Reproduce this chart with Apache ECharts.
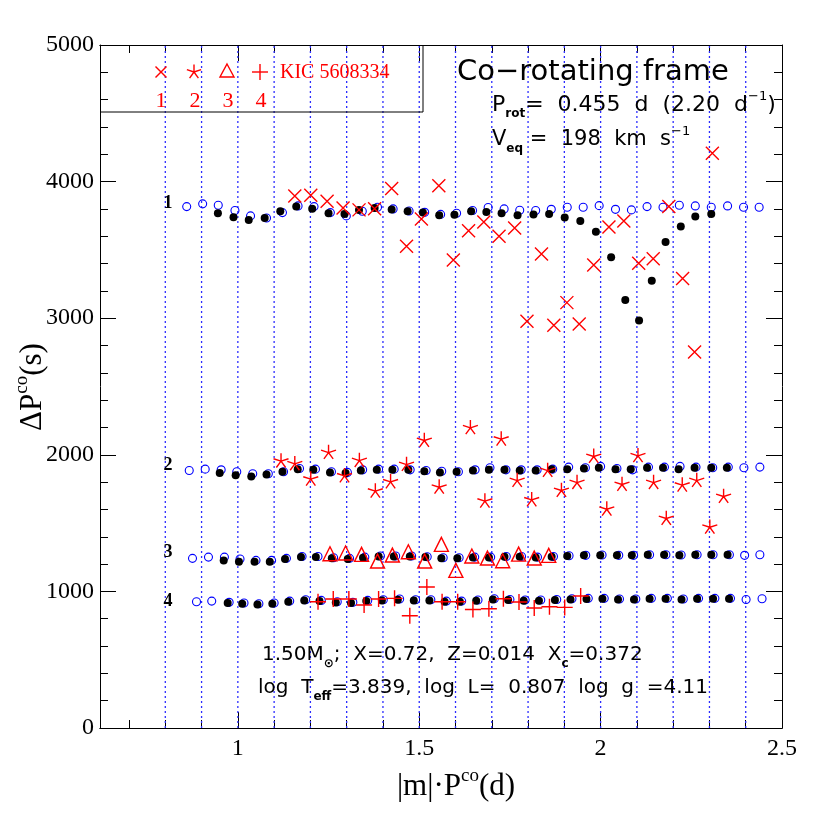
<!DOCTYPE html>
<html>
<head>
<meta charset="utf-8">
<script src="https://cdn.jsdelivr.net/npm/echarts@6/dist/echarts.min.js"></script>
<style>
html, body { margin: 0; padding: 0; background: #fff; }
#main { width: 830px; height: 830px; }
</style>
</head>
<body>
<div id="main"></div>
<script>
// tick positions
var majorX = [1, 1.5, 2, 2.5];
var minorX = [0.7, 0.8, 0.9, 1.1, 1.2, 1.3, 1.4, 1.6, 1.7, 1.8, 1.9, 2.1, 2.2, 2.3, 2.4];
var gridX = [0.8, 0.9, 1.0, 1.1, 1.2, 1.3, 1.4, 1.5, 1.6, 1.7, 1.8, 1.9, 2.0, 2.1, 2.2, 2.3, 2.4];

// open blue circles (model a)
var blue1 = [[0.859,3817],[0.903,3837],[0.946,3827],[0.992,3788],[1.035,3749],[1.079,3734],[1.123,3773],[1.166,3822],[1.21,3817],[1.255,3773],[1.299,3749],[1.343,3783],[1.385,3812],[1.428,3800],[1.472,3785],[1.515,3775],[1.559,3760],[1.603,3768],[1.647,3788],[1.69,3810],[1.734,3800],[1.777,3790],[1.821,3788],[1.864,3797],[1.908,3812],[1.952,3812],[1.996,3824],[2.041,3797],[2.085,3793],[2.128,3817],[2.172,3812],[2.217,3827],[2.261,3822],[2.305,3812],[2.35,3822],[2.394,3812],[2.437,3812]];
var blue2 = [[0.866,1885],[0.91,1895],[0.954,1890],[0.997,1876],[1.041,1861],[1.084,1861],[1.126,1876],[1.17,1900],[1.214,1895],[1.258,1876],[1.302,1871],[1.344,1890],[1.388,1895],[1.431,1895],[1.475,1890],[1.519,1885],[1.562,1880],[1.608,1876],[1.654,1890],[1.695,1905],[1.739,1890],[1.781,1890],[1.825,1890],[1.868,1895],[1.912,1910],[1.958,1905],[2.0,1915],[2.045,1900],[2.088,1890],[2.132,1910],[2.176,1910],[2.219,1915],[2.263,1910],[2.309,1905],[2.352,1910],[2.395,1905],[2.439,1910]];
var blue3 = [[0.875,1242],[0.919,1251],[0.963,1251],[1.006,1237],[1.05,1227],[1.093,1227],[1.134,1242],[1.177,1256],[1.221,1256],[1.264,1246],[1.308,1242],[1.35,1251],[1.393,1259],[1.435,1259],[1.479,1259],[1.522,1254],[1.566,1246],[1.61,1246],[1.653,1251],[1.697,1251],[1.74,1256],[1.782,1256],[1.826,1251],[1.87,1256],[1.913,1261],[1.959,1264],[2.004,1266],[2.05,1264],[2.091,1264],[2.135,1268],[2.18,1268],[2.222,1266],[2.266,1268],[2.31,1268],[2.355,1268],[2.397,1264],[2.439,1268]];
var blue4 = [[0.886,924],[0.928,929],[0.976,920],[1.017,915],[1.058,910],[1.1,915],[1.143,929],[1.187,939],[1.23,934],[1.274,924],[1.317,920],[1.358,934],[1.401,939],[1.446,944],[1.49,939],[1.532,939],[1.575,929],[1.617,929],[1.662,937],[1.707,946],[1.75,941],[1.792,937],[1.835,937],[1.879,941],[1.921,946],[1.966,949],[2.01,949],[2.052,944],[2.097,944],[2.14,949],[2.184,949],[2.228,944],[2.27,949],[2.315,949],[2.358,949],[2.401,941],[2.445,946]];

// filled black dots (model b)
var black1 = [[0.945,3768],[0.988,3739],[1.03,3719],[1.074,3734],[1.117,3783],[1.161,3817],[1.205,3802],[1.25,3768],[1.294,3763],[1.334,3793],[1.377,3807],[1.424,3795],[1.468,3783],[1.51,3773],[1.555,3754],[1.597,3758],[1.643,3783],[1.685,3778],[1.727,3768],[1.771,3754],[1.815,3760],[1.858,3763],[1.901,3737],[1.944,3712],[1.987,3632],[2.029,3446],[2.068,3134],[2.106,2983],[2.141,3275],[2.179,3558],[2.221,3671],[2.261,3744],[2.305,3763]];
var black2 = [[0.95,1866],[0.994,1851],[1.037,1841],[1.079,1856],[1.123,1876],[1.165,1895],[1.208,1890],[1.254,1871],[1.297,1866],[1.339,1885],[1.383,1890],[1.426,1890],[1.47,1890],[1.514,1880],[1.557,1871],[1.603,1876],[1.648,1885],[1.692,1890],[1.735,1890],[1.777,1885],[1.821,1885],[1.865,1895],[1.908,1895],[1.954,1900],[1.995,1905],[2.041,1895],[2.083,1895],[2.128,1905],[2.172,1905],[2.215,1895],[2.259,1905],[2.305,1905],[2.348,1905]];
var black3 = [[0.961,1227],[1.003,1217],[1.046,1217],[1.088,1217],[1.13,1237],[1.174,1251],[1.215,1251],[1.259,1242],[1.303,1237],[1.345,1246],[1.388,1256],[1.43,1256],[1.474,1256],[1.517,1251],[1.561,1242],[1.605,1242],[1.648,1249],[1.692,1249],[1.735,1254],[1.777,1254],[1.821,1249],[1.865,1254],[1.908,1259],[1.954,1264],[1.999,1264],[2.045,1264],[2.086,1264],[2.13,1268],[2.175,1268],[2.217,1264],[2.261,1268],[2.305,1268],[2.35,1268]];
var black4 = [[0.972,915],[1.012,910],[1.054,905],[1.095,910],[1.139,924],[1.183,934],[1.225,929],[1.27,919],[1.312,915],[1.354,929],[1.397,934],[1.441,939],[1.485,934],[1.528,934],[1.57,924],[1.612,924],[1.657,932],[1.703,941],[1.745,937],[1.788,932],[1.83,932],[1.874,937],[1.917,941],[1.961,944],[2.005,946],[2.048,941],[2.092,941],[2.135,946],[2.179,946],[2.223,941],[2.266,946],[2.31,946],[2.354,946]];

// KIC 5608334 observed
var obs1 = [[1.157,3895],[1.201,3900],[1.246,3856],[1.29,3807],[1.334,3793],[1.377,3802],[1.424,3949],[1.465,3527],[1.506,3727],[1.554,3970],[1.594,3426],[1.636,3640],[1.678,3705],[1.72,3600],[1.763,3661],[1.797,2978],[1.837,3470],[1.871,2948],[1.907,3114],[1.941,2958],[1.981,3390],[2.023,3668],[2.064,3712],[2.105,3402],[2.145,3436],[2.188,3817],[2.226,3290],[2.259,2753],[2.308,4207]];
var obs2 = [[1.119,1959],[1.157,1939],[1.201,1827],[1.25,2022],[1.294,1851],[1.335,1963],[1.379,1739],[1.421,1807],[1.465,1934],[1.514,2110],[1.555,1768],[1.641,2203],[1.681,1666],[1.726,2120],[1.77,1817],[1.81,1675],[1.854,1890],[1.892,1744],[1.935,1802],[1.981,1993],[2.017,1607],[2.059,1788],[2.103,1998],[2.146,1802],[2.181,1539],[2.225,1783],[2.265,1817],[2.301,1475],[2.339,1700]];
var obs3 = [[1.254,1276],[1.297,1281],[1.341,1271],[1.385,1222],[1.426,1266],[1.47,1290],[1.515,1222],[1.561,1344],[1.601,1154],[1.645,1259],[1.688,1244],[1.73,1224],[1.774,1273],[1.817,1244],[1.857,1264]];
var obs4 = [[1.221,924],[1.263,944],[1.306,944],[1.348,900],[1.388,944],[1.432,949],[1.474,822],[1.521,1032],[1.563,924],[1.606,924],[1.648,868],[1.692,873],[1.732,946],[1.775,922],[1.817,878],[1.859,888],[1.901,883],[1.945,966]];

var RED = '#ff0000', BLUE = '#0000ff';
var crossPath = 'path://M0,0L10,10M10,0L0,10';
var plusPath = 'path://M5,0L5,10M0,5L10,5';
var starPath = 'path://M10,10L10,0M10,10L19.51,6.91M10,10L0.49,6.91M10,10L15.88,18.09M10,10L4.12,18.09';

var chart = echarts.init(document.getElementById('main'));

function blueSeries(d) {
	return { type: 'scatter', data: d, symbol: 'circle', symbolSize: 8, z: 3, silent: true,
		itemStyle: { color: 'transparent', borderColor: BLUE, borderWidth: 1.1, opacity: 1 } };
}
function blackSeries(d) {
	return { type: 'scatter', data: d, symbol: 'circle', symbolSize: 8, z: 4, silent: true,
		itemStyle: { color: '#000', opacity: 1 } };
}
function redSeries(d, sym, size) {
	return { type: 'scatter', data: d, symbol: sym, symbolSize: size, symbolKeepAspect: true, z: 5, silent: true,
		itemStyle: { color: 'transparent', borderColor: RED, borderWidth: 1.4, opacity: 1 } };
}
// vertical dotted guide lines
function gridSeries(v) {
	return { type: 'line', data: [[v, 0], [v, 5000]], symbol: 'none', z: 1, silent: true,
		itemStyle: { color: BLUE },
		lineStyle: { color: '#2b2bff', width: 1.3, type: [2, 3], opacity: 1 } };
}

var serifFont = 'Liberation Serif';
var sansFont = 'DejaVu Sans';

function xAx(pos, vals, len, label) {
	return {
		type: 'value', position: pos, min: 0.62, max: 2.5,
		axisLine: { show: true, lineStyle: { color: '#000', width: 1 } },
		axisTick: { show: true, inside: true, length: len, customValues: vals, lineStyle: { color: '#000' } },
		axisLabel: { show: label, customValues: vals, fontFamily: serifFont, fontSize: 24, color: '#000', margin: 9 },
		splitLine: { show: false }
	};
}
function yAx(pos, label) {
	return {
		type: 'value', position: pos, min: 0, max: 5000, interval: 1000,
		axisLine: { show: true, lineStyle: { color: '#000', width: 1 } },
		axisTick: { show: true, inside: true, length: 16, lineStyle: { color: '#000' } },
		minorTick: { show: true, splitNumber: 5, length: 8, lineStyle: { color: '#000' } },
		axisLabel: { show: label, fontFamily: serifFont, fontSize: 24, color: '#000', margin: 6,
			formatter: function (v) { return String(v); } },
		splitLine: { show: false }
	};
}

// legend glyphs drawn as strokes
function lineEl(x1, y1, x2, y2) {
	return { type: 'line', shape: { x1: x1, y1: y1, x2: x2, y2: y2 }, style: { stroke: RED, lineWidth: 1.4 }, z: 10 };
}
var legendEls = [];
(function () {
	var cx = 161, cy = 72, r = 5.5;
	legendEls.push(lineEl(cx - r, cy - r, cx + r, cy + r), lineEl(cx + r, cy - r, cx - r, cy + r));
	cx = 194; r = 7.5;
	for (var k = 0; k < 5; k++) {
		var a = Math.PI / 2 + k * 2 * Math.PI / 5;
		legendEls.push(lineEl(cx, cy, cx + r * Math.cos(a), cy - r * Math.sin(a)));
	}
	legendEls.push({ type: 'polygon', shape: { points: [[227, 64], [234, 77], [220, 77]] },
		style: { fill: 'none', stroke: RED, lineWidth: 1.4 }, z: 10 });
	cx = 260; r = 8;
	legendEls.push(lineEl(cx - r, cy, cx + r, cy), lineEl(cx, cy - r, cx, cy + r));
	[['1', 161], ['2', 195], ['3', 228], ['4', 261]].forEach(function (t) {
		legendEls.push({ type: 'text', x: t[1], y: 101, z: 10,
			style: { text: t[0], fill: RED, font: '22px ' + serifFont, align: 'center', verticalAlign: 'middle' } });
	});
	legendEls.push({ type: 'text', x: 280, y: 73, z: 10,
		style: { text: 'KIC 5608334', fill: RED, font: '20px ' + serifFont, verticalAlign: 'middle' } });
	legendEls.push({ type: 'polyline', shape: { points: [[100, 112], [423, 112], [423, 45]] },
		style: { stroke: '#000', lineWidth: 1, fill: 'none' }, z: 10 });
})();

function richText(x, y, txt, size) {
	var nrm = { fontFamily: sansFont, fontSize: size, lineHeight: 30, verticalAlign: 'middle', fill: '#000' };
	var sub = { fontFamily: sansFont, fontSize: 12, fontWeight: 'bold', lineHeight: 12, verticalAlign: 'bottom', fill: '#000' };
	var sup = { fontFamily: sansFont, fontSize: 13, lineHeight: 16, verticalAlign: 'top', fill: '#000' };
	return { type: 'text', x: x, y: y, z: 10,
		style: { text: txt, rich: { n: nrm, s: sub, p: sup }, verticalAlign: 'middle', fill: '#000' } };
}
function seriesTag(t, y) {
	return { type: 'text', x: 168, y: y, z: 10,
		style: { text: t, font: 'bold 18px ' + serifFont, fill: '#000', align: 'center', verticalAlign: 'middle' } };
}
var titleRich = {
	n: { fontFamily: serifFont, fontSize: 31, lineHeight: 40, verticalAlign: 'middle' },
	p: { fontFamily: serifFont, fontSize: 19, lineHeight: 26, verticalAlign: 'top' }
};

var texts = [
	{ type: 'text', x: 457, y: 72, z: 10, style: { text: 'Co\u2212rotating frame', font: '29px ' + sansFont, fill: '#000', verticalAlign: 'middle' } },
	richText(492, 105, '{n|P}{s|rot}{n|=  0.455  d  (2.20  d}{p|\u22121}{n|)}', 22),
	richText(492, 140, '{n|V}{s|eq}{n| =  198  km  s}{p|\u22121}', 21),
	richText(262, 655, '{n|1.50M}{s|\u2299}{n|;  X=0.72,  Z=0.014  X}{s|c}{n|=0.372}', 20),
	richText(258, 688, '{n|log  T}{s|eff}{n|=3.839,  log  L=  0.807  log  g  =4.11}', 20),
	seriesTag('1', 203), seriesTag('2', 465), seriesTag('3', 552), seriesTag('4', 601),
	{ type: 'text', x: 456, y: 787, z: 10,
		style: { text: '{n||m|\u00b7P}{p|co}{n|(d)}', align: 'center', verticalAlign: 'middle', rich: titleRich } },
	{ type: 'text', x: 33, y: 387, rotation: Math.PI / 2, z: 10,
		style: { text: '{n|\u0394P}{p|co}{n|(s)}', align: 'center', verticalAlign: 'middle', rich: titleRich } }
];

var series = gridX.map(gridSeries).concat([
	blueSeries(blue1), blueSeries(blue2), blueSeries(blue3), blueSeries(blue4),
	blackSeries(black1), blackSeries(black2), blackSeries(black3), blackSeries(black4),
	redSeries(obs1, crossPath, 13),
	redSeries(obs2, starPath, 15),
	redSeries(obs3, 'triangle', 14),
	redSeries(obs4, plusPath, 16)
]);

option = {
	animation: false,
	backgroundColor: '#fff',
	grid: { left: 100, right: 48, top: 45, bottom: 102 },
	xAxis: [
		xAx('bottom', majorX, 16, true),
		xAx('bottom', minorX, 8, false),
		xAx('top', majorX, 16, false),
		xAx('top', minorX, 8, false)
	],
	yAxis: [yAx('left', true), yAx('right', false)],
	series: series,
	graphic: legendEls.concat(texts)
};
chart.setOption(option);
</script>
</body>
</html>
